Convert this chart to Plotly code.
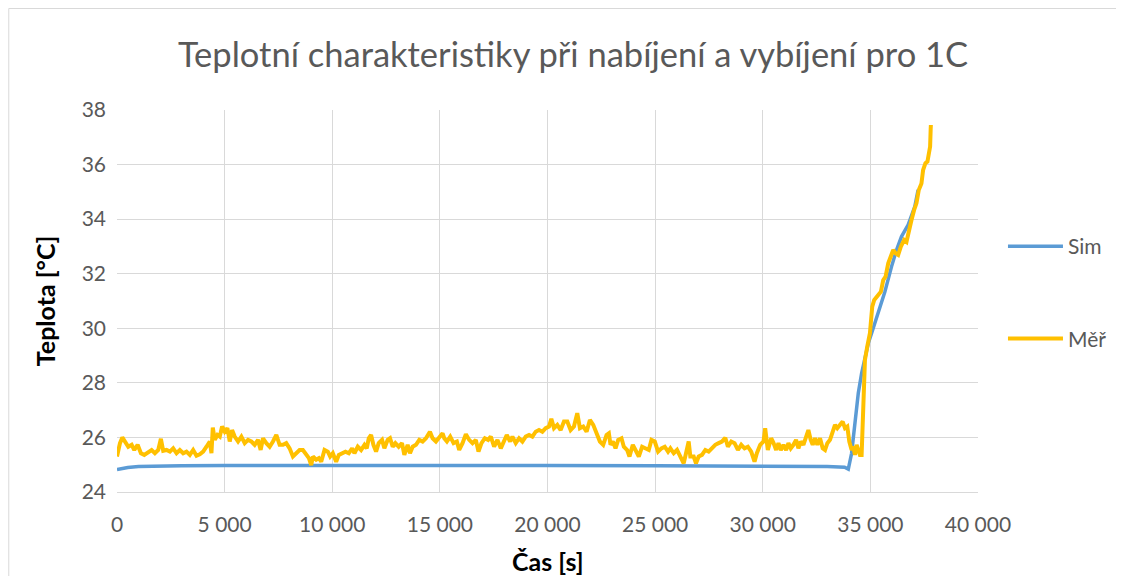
import plotly.graph_objects as go

# ---------------- data ----------------
x_tick_vals = [0, 5000, 10000, 15000, 20000, 25000, 30000, 35000, 40000]
x_tick_text = ["0", "5 000", "10 000", "15 000", "20 000", "25 000", "30 000", "35 000", "40 000"]
y_tick_vals = [24, 26, 28, 30, 32, 34, 36, 38]

sim_time = [0, 200, 500, 1000, 2000, 3000, 5000, 10000, 15000, 20000, 25000, 30000,
            33000, 33800, 33975, 34128, 34283, 34438, 34593, 34748, 34902, 35057,
            35365, 35674, 35983, 36214, 36446, 36755, 37064, 37218]
sim_temp = [24.82, 24.86, 24.90, 24.93, 24.95, 24.96, 24.97, 24.98, 24.98, 24.97, 24.96, 24.95,
            24.93, 24.91, 24.84, 25.42, 26.64, 27.62, 28.35, 28.96, 29.45, 29.82,
            30.55, 31.34, 32.26, 32.87, 33.36, 33.79, 34.46, 35.07]

mer_time = [
    0, 139, 247, 371, 525, 680, 803, 958, 1112, 1267,
    1452, 1607, 1761, 1916, 2039, 2147, 2302, 2456, 2611, 2766,
    2920, 3075, 3229, 3384, 3538, 3693, 3847, 4002, 4156, 4311,
    4388, 4450, 4542, 4666, 4774, 4882, 5006, 5129, 5237, 5346,
    5469, 5624, 5778, 5933, 6087, 6242, 6396, 6551, 6674, 6783,
    6937, 7092, 7246, 7401, 7555,
    7710, 7864, 8019, 8173, 8328, 8482, 8637, 8791, 8915, 9023,
    9100, 9255, 9378, 9486, 9641, 9795, 9903, 10027, 10182, 10305,
    10460, 10614, 10769, 10923, 11031, 11186, 11340, 11495, 11603, 11696,
    11804, 11912, 12036, 12159, 12314, 12422, 12576, 12684, 12808, 12932,
    13086, 13241, 13349, 13503, 13611, 13735, 13890, 14044, 14199, 14353,
    14538, 14662, 14817, 14971, 15126,
    15203, 15327, 15481, 15636, 15790, 15898, 16053, 16207, 16362, 16516,
    16671, 16794, 16933, 17088, 17242, 17366, 17521, 17675, 17830, 17984,
    18108, 18262, 18370, 18525, 18679, 18834, 18988, 19143, 19297, 19452,
    19606, 19761, 19915, 20070, 20178, 20302, 20456, 20611, 20765, 20920,
    21074, 21229, 21383, 21507, 21661, 21816, 21970, 22125, 22279, 22434,
    22588, 22743, 22851,
    22928, 23036, 23160, 23284, 23438, 23546, 23701, 23809, 23963, 24087,
    24242, 24396, 24551, 24705, 24829, 24983, 25138, 25292, 25447, 25601,
    25709, 25864, 26018, 26173, 26327, 26435, 26559, 26636, 26791, 26899,
    27023, 27177, 27332, 27486, 27641, 27795, 27950, 28104, 28259, 28382,
    28537, 28691, 28846, 29000, 29155, 29309, 29464, 29618, 29726, 29881,
    30035, 30113, 30236, 30391,
    30498, 30622, 30730, 30838, 30962, 31085, 31193, 31301, 31425, 31549,
    31657, 31765, 31889, 32012, 32120, 32228, 32321, 32429, 32537, 32661,
    32785, 32893, 33001, 33125, 33248, 33356, 33464, 33588, 33712, 33820,
    33928, 34021, 34129, 34206, 34283, 34361, 34438, 34515, 34593,
    34670, 34748, 34855, 34979, 35086, 35179, 35365, 35489, 35597, 35705,
    35829, 35953, 36060, 36168, 36292, 36416, 36570, 36678, 36786, 36910,
    37033, 37141, 37249, 37373, 37450, 37558, 37651, 37713, 37775, 37800,
    37810,
]
mer_temp = [
    25.30, 25.79, 26.00, 25.85, 25.66, 25.73, 25.54, 25.73, 25.42, 25.36,
    25.48, 25.54, 25.42, 25.54, 25.95, 25.51, 25.54, 25.48, 25.60, 25.42,
    25.54, 25.42, 25.48, 25.36, 25.54, 25.33, 25.38, 25.48, 25.66, 25.85,
    25.42, 26.36, 25.91, 26.09, 26.03, 26.40, 26.21, 26.34, 25.85, 26.27,
    26.03, 25.85, 26.03, 25.79, 25.91, 25.85, 25.73, 25.91, 25.54, 25.97,
    25.79, 25.66, 25.85, 26.09, 25.73,
    25.73, 25.79, 25.60, 25.30, 25.42, 25.54, 25.54, 25.36, 25.24, 24.99,
    25.30, 25.18, 25.24, 25.11, 25.54, 25.48, 25.30, 25.42, 25.11, 25.36,
    25.42, 25.48, 25.42, 25.60, 25.42, 25.66, 25.54, 25.73, 25.60, 25.97,
    26.09, 25.73, 25.48, 25.79, 25.91, 25.60, 25.91, 25.97, 25.66, 25.79,
    25.66, 25.79, 25.36, 25.73, 25.42, 25.66, 25.73, 25.91, 25.85, 25.97,
    26.21, 25.97, 25.85, 26.03, 26.15,
    25.97, 25.85, 26.03, 25.79, 25.85, 25.54, 25.79, 26.12, 25.91, 25.79,
    25.91, 25.48, 25.79, 25.97, 25.91, 26.03, 25.66, 25.91, 25.60, 25.91,
    26.09, 25.85, 26.03, 25.79, 25.97, 25.85, 26.03, 26.09, 26.03, 26.21,
    26.27, 26.21, 26.34, 26.40, 26.68, 26.34, 26.46, 26.27, 26.58, 26.58,
    26.27, 26.40, 26.89, 26.34, 26.40, 26.21, 26.64, 26.46, 26.15, 25.85,
    25.73, 26.09, 26.15,
    25.73, 25.85, 25.60, 25.91, 25.97, 25.66, 25.54, 25.30, 25.73, 25.54,
    25.30, 25.66, 25.60, 25.54, 25.91, 25.85, 25.48, 25.60, 25.66, 25.48,
    25.60, 25.42, 25.54, 25.30, 25.05, 25.42, 25.85, 25.30, 25.30, 25.05,
    25.30, 25.36, 25.54, 25.48, 25.60, 25.73, 25.79, 25.85, 25.99, 25.66,
    25.85, 25.79, 25.54, 25.73, 25.60, 25.66, 25.48, 25.11, 25.42, 25.73,
    25.85, 26.34, 25.54, 25.97,
    25.80, 25.54, 25.79, 25.54, 25.73, 25.54, 25.79, 25.60, 25.73, 25.91,
    25.60, 25.85, 25.73, 26.09, 26.27, 25.91, 25.73, 25.97, 25.73, 25.97,
    25.60, 25.54, 25.79, 25.91, 26.21, 26.46, 26.34, 26.46, 26.58, 26.34,
    26.40, 25.85, 25.54, 25.66, 25.36, 25.73, 25.48, 25.36, 25.36,
    27.74, 28.84, 29.33, 29.82, 30.79, 31.04, 31.22, 31.34, 31.77, 31.89,
    32.38, 32.62, 32.87, 32.75, 32.69, 32.99, 33.24, 33.17, 33.48, 33.97,
    34.34, 34.58, 35.07, 35.31, 35.80, 36.05, 36.11, 36.41, 36.66, 37.27,
    37.45,
]
assert len(mer_time) == len(mer_temp)
assert len(sim_time) == len(sim_temp)

# ---------------- figure ----------------
FONT = "Lato, 'Open Sans', sans-serif"
GRAY = "#595959"
GRID = "#D9D9D9"

fig = go.Figure()
fig.add_trace(go.Scatter(x=sim_time, y=sim_temp, name="Sim", mode="lines",
                         line=dict(color="#5B9BD5", width=3.5), legendgroup="sim"))
fig.add_trace(go.Scatter(x=mer_time, y=mer_temp, name="Měř", mode="lines",
                         line=dict(color="#FFC000", width=4), legendgroup="mer"))

fig.update_layout(
    width=1116, height=568, autosize=False,
    margin=dict(l=109, r=144, t=102, b=84),
    paper_bgcolor="white", plot_bgcolor="white",
    font=dict(family=FONT, color=GRAY),
    title=dict(text="Teplotní charakteristiky při nabíjení a vybíjení pro 1C",
               x=0.5063, xanchor="center", y=0.917, yanchor="middle",
               font=dict(size=34.5, color=GRAY, family=FONT)),
    xaxis=dict(range=[0, 40000], tickvals=x_tick_vals, ticktext=x_tick_text,
               showgrid=True, gridcolor=GRID, gridwidth=1, zeroline=False,
               showline=True, linecolor=GRID, linewidth=1, ticks="",
               tickfont=dict(size=21, color=GRAY, family=FONT), ticklabelstandoff=14,
               fixedrange=True),
    yaxis=dict(range=[24, 38], tickvals=y_tick_vals,
               showgrid=True, gridcolor=GRID, gridwidth=1, zeroline=False,
               showline=False, ticks="",
               tickfont=dict(size=21, color=GRAY, family=FONT), ticklabelstandoff=10,
               fixedrange=True),
    legend=dict(x=1.029, xanchor="left", y=0.696, yanchor="top",
                font=dict(size=21, color=GRAY, family=FONT), itemwidth=55,
                tracegroupgap=62, traceorder="grouped", bgcolor="rgba(0,0,0,0)"),
    showlegend=True,
    annotations=[
        dict(text="<b>Čas [s]</b>", xref="paper", yref="paper", x=0.5, y=-0.181,
             xanchor="center", yanchor="middle", showarrow=False,
             font=dict(size=25, color="#000000", family=FONT)),
        dict(text="<b>Teplota [°C]</b>", xref="paper", yref="paper", x=-0.0834, y=0.5,
             xanchor="center", yanchor="middle", showarrow=False, textangle=-90,
             font=dict(size=25, color="#000000", family=FONT)),
    ],
    shapes=[
        dict(type="rect", xref="paper", yref="paper", x0=-0.1257, x1=1.1634,
             y0=-0.30, y1=1.2657, line=dict(color=GRID, width=1), fillcolor="rgba(0,0,0,0)",
             layer="below"),
    ],
)

fig.write_html("out.html")
